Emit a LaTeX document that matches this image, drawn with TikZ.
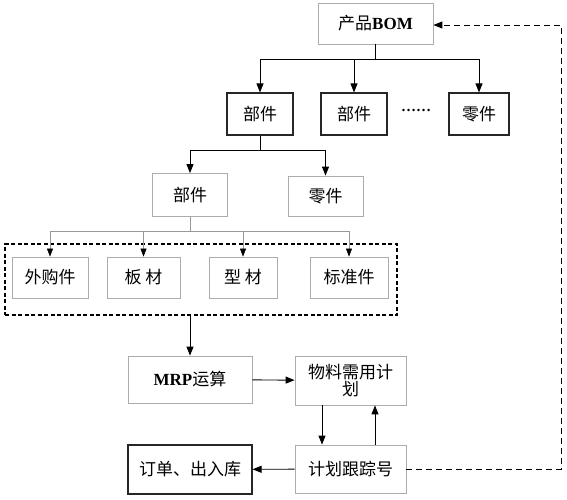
\documentclass[tikz,border=0pt]{standalone}
\usepackage{fontspec}
\setmainfont{Liberation Serif}
\newfontfamily\cjk{Noto Sans CJK SC}
\usetikzlibrary{arrows.meta}

\tikzset{
  graybox/.style={draw=gray!65,line width=0.8pt,minimum height=41pt,inner sep=2pt},
  blackbox/.style={draw=black!85,line width=1.1pt,minimum height=42pt,inner sep=2pt},
  arr/.style={-{Triangle[length=9pt,width=7pt]},line width=0.9pt},
  thinarr/.style={-{Triangle[length=8pt,width=6pt,color=black]},draw=gray!80,line width=0.6pt},
  dashbox/.style={draw,dashed,line width=1.2pt,dash pattern=on 4pt off 2.5pt},
  dashline/.style={-{Triangle[length=9pt,width=7pt]},line width=0.9pt,dash pattern=on 6pt off 4pt}
}

\begin{document}
\begin{tikzpicture}
  [x=1pt,y=-1pt,every node/.style={font=\cjk\fontsize{17}{20}\selectfont}]
  \useasboundingbox (0,0) rectangle (567,500);

  % product structure
  \node[graybox,minimum width=115pt] (bom) at (375.5,23.5) {产品{\rmfamily\bfseries BOM}};
  \node[blackbox,minimum width=66pt] (p1) at (260,114) {部件};
  \node[blackbox,minimum width=66pt] (p2) at (354,114) {部件};
  \node (dots) at (416,110) {\rmfamily\bfseries\fontsize{15}{17}\selectfont ……};
  \node[blackbox,minimum width=60pt] (z1) at (479,114) {零件};

  \node[graybox,minimum width=75pt,minimum height=43pt] (q1) at (190,195) {部件};
  \node[graybox,minimum width=75pt,minimum height=40pt] (q2) at (325.5,196) {零件};

  \node[dashbox,minimum width=392pt,minimum height=71pt] (grp) at (201,279.5) {};
  \node[graybox,minimum width=76pt] (w1) at (50,277.5)  {外购件};
  \node[graybox,minimum width=73pt] (w2) at (143.5,277.5) {板 材};
  \node[graybox,minimum width=68pt] (w3) at (243,277.5) {型 材};
  \node[graybox,minimum width=78pt] (w4) at (349,277.5) {标准件};

  % planning
  \node[graybox,minimum width=124pt,minimum height=47pt] (mrp) at (190,379.5) {{\rmfamily\bfseries MRP}运算};
  \node[graybox,minimum width=111pt,minimum height=49pt,text width=105pt,align=center,inner sep=0pt] (plan) at (350.5,380.5) {物料需用计\\[-3pt]划};
  \node[graybox,minimum width=111pt,minimum height=48pt] (track) at (350.5,469) {计划跟踪号};
  \node[blackbox,minimum width=124pt,minimum height=49pt] (order) at (190,469.5) {订单、出入库};

  \coordinate (j1) at (375.5,59);
  \coordinate (j2) at (260,150);
  \coordinate (j3) at (190,231);
  \coordinate (c1) at (561,469);
  \coordinate (c2) at (561,25);

  \foreach \to in {p1,p2,z1}
    \draw[arr] (bom) -- (j1) -| (\to);
  \foreach \to in {q1,q2}
    \draw[arr] (p1) -- (j2) -| (\to);
  \foreach \to in {w1,w2,w3,w4}
    \draw[thinarr] (q1) -- (j3) -| (\to);

  \draw[arr] (grp.south -| mrp.north) -- (mrp);
  \draw[arr] (mrp) -- (plan);
  \draw[arr] ([xshift=-28.5pt]plan.south) -- ([xshift=-28.5pt]track.north);
  \draw[arr] ([xshift=24.5pt]track.north) -- ([xshift=24.5pt]plan.south);
  \draw[arr] (track) -- (order);
  \draw[dashline] (track) -- (c1) -- (c2) -- (c2 -| bom.east);

\end{tikzpicture}
\end{document}
